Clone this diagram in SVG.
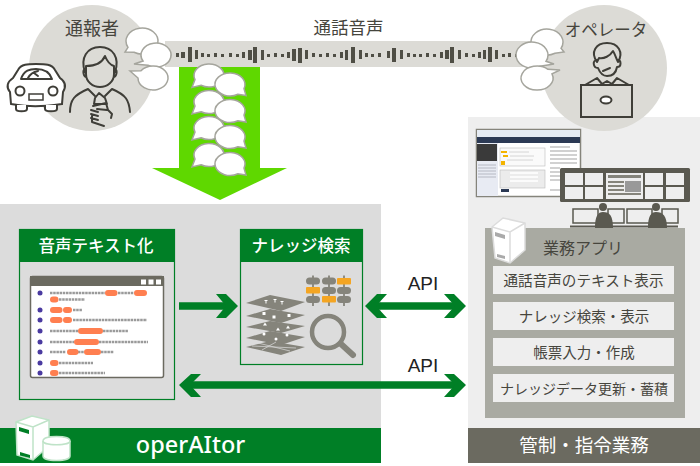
<svg xmlns="http://www.w3.org/2000/svg" width="700" height="466" viewBox="0 0 700 466">
<style>
text{font-family:"Noto Sans CJK JP","Liberation Sans",sans-serif;fill:#46453d}
.c{text-anchor:middle}
.ln{fill:none;stroke:#3f3e38;stroke-width:2;stroke-linecap:round;stroke-linejoin:round}
.bub{fill:#fff;stroke:#a5a59d;stroke-width:1.5;stroke-linejoin:miter}
.flow{fill:none;stroke:#007f26;stroke-width:7.5}
.head{fill:#007f26}
.row{fill:#eeeeee}
.gbox{fill:#dcdcdc;stroke:#007f26;stroke-width:1.2}
.hdr{fill:#007f26}
.pill{fill:#ff7f50}
.tl{fill:none;stroke:#9a9a9a;stroke-width:2.5;stroke-dasharray:2.5 .7}
.dot{fill:#4a3aa0}
.g{fill:#85847b}
.hd{fill:#fff;font-weight:500}
.api{font-family:"Liberation Sans",sans-serif;fill:#222}
</style>
<defs>
<g id="pair">
<path class="bub" d="M-14 4.100 A15 11.500 0 1 1 -8 9.700 L-17 12 Z"/>
<path class="bub" d="M29 18.700 A15 11.500 0 1 1 35 13.100 L37 20 Z"/>
</g>
</defs>

<g id="panel-operaitor">
<rect x="0" y="204" width="381" height="224" fill="#dcdcdc"/>
<rect x="0" y="428" width="381" height="35" fill="#007f26"/>
<text x="190.500" y="453" class="c" style="fill:#fff;font-family:'Noto Sans',sans-serif;font-weight:500" font-size="23.500">operAItor</text>
<g id="server-icon-left" stroke="#bfe3c8" stroke-width="1.500" fill="#fff">
<path d="M16 422 L32 416 L49 420 L49 446 L33 460 L17 455 Z"/>
<path d="M16 422 L33 427 L49 420 M33 427V460" fill="none"/>
<path d="M19 427 L29 430 V434 L19 431Z" fill="#007f26" stroke="none"/>
<path d="M20 452 L30 455 V458 L20 455.500Z" fill="#007f26" stroke="none"/>
<path d="M43 441 V456 C43 462 70 462 70 456 V441 C70 435 43 435 43 441 Z"/>
<path d="M43 441 C43 446 70 446 70 441" fill="none"/>
</g>
</g>

<g id="panel-control">
<rect x="468" y="117" width="232" height="311" fill="#eeeeee"/>
<rect x="468" y="428" width="232" height="35" fill="#6b6a60"/>
<text x="584" y="452" class="c" style="fill:#fff" font-size="18.500">管制・指令業務</text>
</g>

<g id="caller">
<circle cx="92" cy="68" r="63" fill="#dcdbd6"/>
<text x="92" y="35" class="c" font-size="18">通報者</text>
<path class="ln" d="M85 72 C80 58 87 47 100 47 C113 47 120 58 115 72 M86 66 C94 66 102 63 105 56 C107 61 110 65 114 66 M86 66 V74 C86 82 93 87 100 87 C107 87 114 82 114 74 V66 M86 69 C82 68 83 76 86 77 M114 69 C118 68 117 76 114 77"/>
<path class="ln" d="M70 112 C70 100 74 95 88 89 M130 112 C129 100 126 95 112 89 M88 89 L95 96 M112 89 L105 96"/>
<path class="ln" d="M95 98 L99 93 L105 98 L107 104 L94 104 Z M93 106 L106 103 L108 110 L112 114 L111 118 M91 110 L98 112 M91 114 L98 116 M91 118 L98 120 M92 116 L92 122 L104 126 M97 109 L107 110"/>
</g>

<g id="car">
<path d="M11 104 L10 92 C6 87 7 82 13 78 L18 70 C21 64 28 64 36 64 C45 64 52 64 55 70 L60 78 C66 82 66 87 63 92 L62 104 C40 107 30 107 11 104 Z" fill="#fff" stroke="#3f3e38" stroke-width="2"/>
<path class="ln" d="M21 79 C24 70 30 69 36 69 C42 69 49 70 52 79 Z M28 78 C30 74 33 72 38 71 M34 73 L38 76"/>
<circle cx="20" cy="91" r="4.500" fill="#fff" stroke="#3f3e38" stroke-width="2"/>
<circle cx="53" cy="91" r="4.500" fill="#fff" stroke="#3f3e38" stroke-width="2"/>
<rect x="29" y="94" width="14" height="6" fill="#fff" stroke="#3f3e38" stroke-width="1.500"/>
<path d="M16 105 V109 C16 112 27 112 27 109 V105 M45 105 V109 C45 112 57 112 57 109 V105" fill="#fff" stroke="#3f3e38" stroke-width="2"/>
</g>

<g id="operator">
<circle cx="604" cy="68" r="63" fill="#dcdbd6"/>
<text x="606" y="36" class="c" font-size="16.500">オペレータ</text>
<path class="ln" d="M597 62 C590 52 596 43 607 43 C618 43 624 52 618 62 C616 58 615 54 613 51 C610 56 604 59 599 58 L597 62 M597 60 C592 60 593 68 598 68 C600 73 603 76 607 76 C612 76 616 73 617 67 C622 67 621 60 618 60 M603 71 L610 68"/>
<path class="ln" d="M585 85 L597 78 L602 84 L607 81 L612 84 L617 78 L629 85"/>
<rect x="581" y="85" width="51" height="32" fill="#dcdbd6" stroke="#3f3e38" stroke-width="2"/>
<ellipse cx="606" cy="100" rx="5.500" ry="3.500" fill="#fff" stroke="#3f3e38" stroke-width="2"/>
</g>

<g id="voice-band">
<rect x="165" y="41" width="367" height="26" fill="#dcdbd6"/>
<path d="M176 53h3v4h-3zM181 52h4v6h-4zM188 47h4v15h-4zM195 50h3v9h-3zM201 53h3v4h-3zM207 54h3v3h-3zM214 53h3v4h-3zM221 54h3v3h-3zM229 53h3v4h-3zM236 54h3v3h-3zM242 52h3v6h-3zM248 50h4v10h-4zM253 47h4v16h-4zM261 50h3v10h-3zM267 54h3v3h-3zM274 53h3v4h-3zM281 54h3v3h-3zM287 52h3v6h-3zM292 49h4v12h-4zM298 48h4v15h-4zM305 50h3v9h-3zM312 53h3v4h-3zM319 54h3v3h-3zM326 53h3v4h-3zM333 54h3v3h-3zM340 52h3v6h-3zM345 50h3v10h-3zM351 47h4v16h-4zM359 50h3v9h-3zM365 53h3v4h-3zM371 54h3v3h-3zM378 53h3v4h-3zM387 51h3v7h-3zM392 48h4v14h-4zM400 50h3v9h-3zM407 53h3v4h-3zM413 54h3v3h-3zM419 54h3v3h-3zM426 53h3v4h-3zM433 54h3v3h-3zM440 52h3v6h-3zM445 50h4v9h-4zM450 47h4v16h-4zM458 50h3v9h-3zM465 53h3v4h-3zM472 54h3v3h-3zM478 52h3v6h-3zM483 50h3v9h-3zM488 47h4v15h-4zM495 50h3v9h-3zM502 54h3v3h-3zM508 53h3v4h-3zM515 54h3v3h-3z" fill="#4f4e45"/>
</g>

<g id="bubbles-caller">
<path class="bub" d="M128 47.300 A16 13 0 1 1 134 52.300 L125 52 Z"/>
<path class="bub" d="M143 61 A15 12 0 1 1 148 65.200 L134 64 Z"/>
<path class="bub" d="M141 70.800 A15 12 0 1 1 138 78 L130 71 Z"/>
</g>
<g id="bubbles-operator">
<path class="bub" d="M555 53.300 A16 13 0 1 1 561 48.300 L564 52 Z"/>
<path class="bub" d="M540 66.300 A16 13 0 1 1 546 61.300 L554 64 Z"/>
<path class="bub" d="M552 73.800 A16 12 0 1 1 548 69.300 L560 70 Z"/>
</g>

<g id="transcription-arrow">
<path d="M179 67 H260 V168 H287 L220 200 L152 168 H179 Z" fill="#5fd800"/>
<use href="#pair" x="209" y="75.500"/>
<use href="#pair" x="209" y="102"/>
<use href="#pair" x="209" y="128"/>
<use href="#pair" x="209" y="155"/>
</g>
<text x="348.500" y="34" class="c" font-size="17.500" id="label-voice">通話音声</text>

<g id="node-stt">
<rect x="19.500" y="229.500" width="155" height="170" class="gbox"/>
<rect x="19" y="229" width="156" height="33" class="hdr"/>
<text x="96" y="252" class="c hd" style="fill:#fff" font-size="16.500">音声テキスト化</text>
<rect x="30.500" y="276.500" width="133" height="101" rx="2" fill="#fff" stroke="#6b6a60" stroke-width="1.500"/>
<rect x="30" y="276" width="134" height="10" fill="#6b6a60"/>
<rect x="141" y="279.500" width="5" height="5" fill="#fff"/><rect x="148.500" y="279.500" width="5" height="5" fill="#fff"/><rect x="156" y="279.500" width="5" height="5" fill="#fff"/>
<g class="dot"><circle cx="40" cy="293" r="2.500"/><circle cx="40" cy="310" r="2.500"/><circle cx="40" cy="320" r="2.500"/><circle cx="40" cy="331" r="2.500"/><circle cx="40" cy="342" r="2.500"/><circle cx="40" cy="352" r="2.500"/><circle cx="40" cy="363" r="2.500"/><circle cx="40" cy="373" r="2.500"/></g>
<path class="tl" d="M50 293H105M118 293H134M59 299.500H85M73 310H82M73 320H147M50 331H78M103 331H128M50 342H74M99 342H148M50 352H66M78 352H84M101 352H114M59 363H93M59 373H105"/>
<g class="pill"><rect x="105" y="290" width="12.500" height="6" rx="3"/><rect x="134" y="290" width="13" height="6" rx="3"/><rect x="50" y="296.500" width="8.500" height="6" rx="3"/><rect x="50" y="307" width="12.500" height="6" rx="3"/><rect x="63" y="307" width="9" height="6" rx="3"/><rect x="50" y="317" width="12.500" height="6" rx="3"/><rect x="63" y="317" width="9" height="6" rx="3"/><rect x="78" y="328" width="25" height="6" rx="3"/><rect x="74" y="339" width="25" height="6" rx="3"/><rect x="67" y="349" width="11.500" height="6" rx="3"/><rect x="84" y="349" width="17" height="6" rx="3"/><rect x="50" y="360" width="8.500" height="6" rx="3"/><rect x="50" y="370" width="8.500" height="6" rx="3"/></g>
</g>

<g id="node-knowledge">
<rect x="240.500" y="229.500" width="122" height="135" class="gbox"/>
<rect x="240" y="229" width="123" height="33" class="hdr"/>
<text x="301" y="252" class="c hd" style="fill:#fff" font-size="16.500">ナレッジ検索</text>
<g class="g">
<path d="M246 303 L270 295 L305 302 L281 311 Z"/>
<path d="M246 316 L270 309 L305 315 L281 323 Z"/>
<path d="M246 327 L270 321 L305 326 L281 333 Z"/>
<path d="M246 338 L270 331 L305 337 L281 345 Z"/>
<path d="M246 347 L270 341 L305 347 L281 355 Z"/>
</g>
<g fill="#fff"><path d="M264.500 300h3v1h-1v2.500h-1v-2.500h-1zM273.500 299h3v1h-1v2.500h-1v-2.500h-1zM280.500 301h3v1h-1v2.500h-1v-2.500h-1z"/><rect x="262.500" y="312" width="3" height="3"/><rect x="272.500" y="315.500" width="3" height="3"/><rect x="287.500" y="314" width="3" height="3"/><path d="M265 322.500l2 3h-4zM278 327.500l2 3h-4zM288 325.500l2 3h-4z"/><circle cx="264" cy="334" r="1.500"/><circle cx="276" cy="339" r="1.500"/><circle cx="287" cy="335" r="1.500"/></g>
<path d="M252 346 L296 348 M258 343 L290 351 M262 350 L276 342" stroke="#dcdcdc" stroke-width=".7" fill="none"/>
<path d="M313 275.500V306M329 275.500V306M344 275.500V306" stroke="#85847b" stroke-width="1.800"/>
<g class="g"><rect x="306" y="277.500" width="14" height="7" rx="3.500"/><rect x="322" y="277.500" width="14" height="7" rx="3.500"/><rect x="322" y="287" width="14" height="7" rx="3.500"/><rect x="337" y="287" width="14" height="7" rx="3.500"/><rect x="306" y="296" width="14" height="7" rx="3.500"/><rect x="337" y="296" width="14" height="7" rx="3.500"/></g>
<g fill="#f4a522"><rect x="337" y="278" width="14" height="6.500" rx="1"/><rect x="306" y="287" width="14" height="6.500" rx="1"/><rect x="322" y="296" width="14" height="6.500" rx="1"/></g>
<circle cx="328" cy="332" r="16" fill="none" stroke="#85847b" stroke-width="4.500"/>
<path d="M341 344 L353 355" stroke="#85847b" stroke-width="6" stroke-linecap="round"/>
</g>

<g id="control-room">
<rect x="476.500" y="129.500" width="104" height="67" fill="#fff" stroke="#85847b" stroke-width="1.500"/>
<rect x="477" y="130" width="103" height="7" fill="#e6ecf4"/>
<rect x="477" y="137" width="103" height="6" fill="#2c3a55"/>
<rect x="477" y="143" width="21" height="53" fill="#e8ebf3"/>
<rect x="477" y="144" width="20" height="17" fill="#3a3a3a"/>
<path d="M478 165h18M478 168h18M478 171h18M478 174h18M478 177h18" stroke="#b5b8c2" stroke-width="1"/>
<rect x="500" y="148" width="45" height="18" fill="#fafafa" stroke="#bbb" stroke-width=".6"/>
<path d="M501 151h6v2h-6zM503 155h5v2h-5zM501 161h4v4h-4z" fill="#f4b400"/>
<path d="M509 152h20M510 156h24M507 160h26" stroke="#ccc" stroke-width=".8"/>
<rect x="500" y="170" width="45" height="18" fill="#ececec" stroke="#bbb" stroke-width=".6"/>
<path d="M510 173h28M510 177h28M510 181h28" stroke="#fff" stroke-width="1.500"/>
<rect x="501" y="189" width="8" height="3" fill="#2c3a55"/>
<path d="M550 147h20M550 151h27M550 155h27M550 159h27M550 163h27M550 168h10M550 172h10M550 176h10M550 180h10M550 190h10" stroke="#999" stroke-width=".9"/>
<rect x="560" y="168" width="130" height="34" rx="1.500" fill="#5a5950"/>
<g fill="#eeeeee"><rect x="565" y="173" width="18" height="12"/><rect x="585" y="173" width="18" height="12"/><rect x="565" y="187" width="18" height="12"/><rect x="585" y="187" width="18" height="12"/><rect x="645" y="173" width="18" height="12"/><rect x="666" y="173" width="18" height="12"/><rect x="645" y="187" width="18" height="12"/><rect x="666" y="187" width="18" height="12"/><rect x="606" y="173" width="37" height="26"/></g>
<path d="M608 175h33v3h-33zM608 181h16v2h-16zM608 185h16v2h-16zM608 189h16v2h-16zM608 193h33v2h-33z" fill="#85847b"/><rect x="625" y="181" width="16" height="11" fill="#999"/>
<path d="M573 209h25v14h-25z M608 209h16v14h-16zM627 209h25v14h-25zM662 209h16v14h-16z" fill="#eeeeee" stroke="#5a5950" stroke-width="1.500"/>
<path d="M570 226.500h108" stroke="#5a5950" stroke-width="2"/>
<circle cx="603" cy="207" r="4" fill="#5a5950"/><circle cx="656" cy="207" r="4" fill="#5a5950"/>
<path d="M595 228 C595 216 598 212 603 212 C610 212 613 216 613 228Z M648 228 C648 216 651 212 656 212 C663 212 667 216 667 228Z" fill="#5a5950"/>
</g>

<g id="node-app">
<rect x="485" y="228" width="200" height="190" fill="#a9aaa2"/>
<path d="M492 227 L503 218 L525 223 L525 250 L510 263 L495 258 Z" fill="#fff" stroke="#dcdcdc" stroke-width="1.500"/>
<path d="M492 227 L510 232 L525 223 M510 232 V263" stroke="#dcdcdc" stroke-width="1.500" fill="none"/>
<path d="M495 232 L505 235 V239 L495 236Z M497 254 L505 256 V259 L497 257Z" fill="#aaa"/>
<text x="583" y="254" class="c" font-size="16">業務アプリ</text>
<rect x="493" y="266" width="181" height="28" class="row"/>
<rect x="493" y="302" width="181" height="28" class="row"/>
<rect x="493" y="338" width="181" height="28" class="row"/>
<rect x="493" y="374" width="181" height="28" class="row"/>
<text x="583.500" y="286" class="c" font-size="14.600">通話音声のテキスト表示</text>
<text x="584" y="322" class="c" font-size="14.500">ナレッジ検索・表示</text>
<text x="584" y="358" class="c" font-size="14.500">帳票入力・作成</text>
<text x="584" y="394" class="c" font-size="14">ナレッジデータ更新・蓄積</text>
</g>

<g id="connectors">
<path class="flow" d="M179 306 H232"/>
<path class="head" d="M216 294 H226 L238 306 L226 318 H216 L226 306Z"/>
<path class="flow" d="M372 306 H460"/>
<path class="head" d="M365 306 L377 294 H387 L376 306 L387 318 H377Z M466 306 L454 294 H444 L455 306 L444 318 H454Z"/>
<path class="flow" d="M186 385 H460"/>
<path class="head" d="M179 385 L191 374 H201 L190 385 L201 397 H191Z M466 385 L454 374 H444 L455 385 L444 397 H454Z"/>
</g>
<text x="423" y="290" class="c api" font-size="19">API</text>
<text x="423" y="372" class="c api" font-size="19">API</text>
</svg>
